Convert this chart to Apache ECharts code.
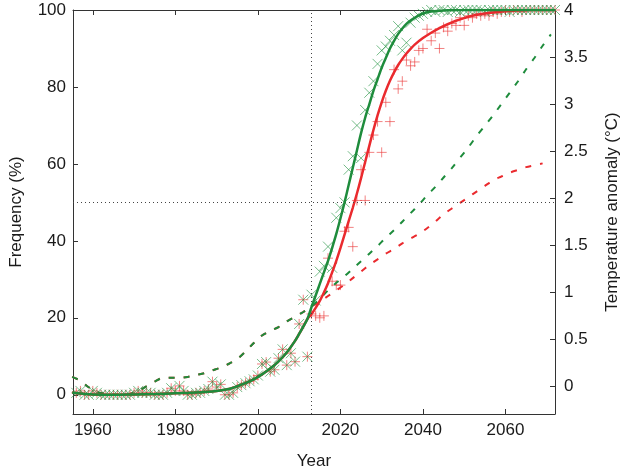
<!DOCTYPE html>
<html><head><meta charset="utf-8">
<script src="https://cdn.jsdelivr.net/npm/echarts@6/dist/echarts.min.js"></script>
<style>html,body{margin:0;padding:0;background:#fff}#c{width:629px;height:475px}</style>
</head><body><div id="c"></div>
<script>
// ---------- DATA ----------
const range = (a, b, s) => { const r = []; for (let v = a; v <= b; v += (s || 1)) r.push(v); return r; };

// Observed frequency (shared by both scenarios), 1955-2012
const obsYears = range(1955, 2012);
const obsFreq = [0,0.5,1,0,0,1,0.5,0,0,0, 0,0,0,0,0,0.5,1,0.5,0.5,0.5, 0,0,0,0.5,1.7,1,2.3,1,0,0,
  0.5,0.5,1,1.5,3.4,2,2.7,0,0,0.5, 2,2.5,3,3.5,4,5,8,8.5,6,6.5, 9.5,11.8,7.7,10.8,8.6,18.4,24.7,9.9];

// Projected frequency, 2013-2072
const projYears = range(2013, 2072);
const greenFreqProj = [26,24.5,32,33.5,38.5,33,46,48.5,50,58.5, 62,70,61.5,74,78.5,81.5,86,89.5,90.5,92,
  93.5,95.8,89.5,91.5,96.7,98,98.5,99,99.5,100, 99.5,100,100,99.5,100,100,99.5,100,100,100,
  100,100,99.5,100,100,100,100,100,99.5,100, 100,100,100,100,100,100,100,100,100,100];
const redFreqProj = [21,20.5,20,20.5,35.5,29.5,28.5,28.5,42.5,43.5, 38.5,50.5,58.5,50.5,63,67.5,71,63,76,71,
  84.5,79.5,81.5,87,85.5,86.5,89.5,90,95,92, 94,90,95.5,94.5,96.5,96,98,96,98.5,98,
  99,98.5,99,98.5,99.5,99,99.5,100,99.5,100, 100,99.5,100,100,100,100,100,100,100,100];

// Fitted frequency curves
const fitObsYears = [1955,1957,1960,1965,1970,1975,1980,1985,1990,1993,1995,1997,1999,2001,2003,2005,2007,2009,2010,2011,2012];
const fitObs = [0.6,0.3,0.1,0,0.1,0.2,0.4,0.6,1,1.5,2.2,3,4,5.3,6.8,8.7,11,14,15.8,17.7,19.7];
const greenFitYears = [2013,2014,2015,2016,2017,2018,2019,2020,2021,2022,2023,2024,2025,2026,2027,2028,2029,2030,2031,2032,2033,2034,2035,2036,2037,2038,2039,2040,2042,2045,2050,2060,2072];
const greenFit = [22.8,25.8,28.8,31.8,34.8,38.2,41.8,45.8,50,54.5,59,63.5,68,72,75.5,79,82,85,87.5,90,92,93.8,95.2,96.4,97.3,98,98.6,99.1,99.6,99.9,100,100,100];
const redFitYears = [2013,2014,2015,2016,2017,2018,2019,2020,2021,2022,2023,2024,2025,2026,2027,2028,2029,2030,2031,2032,2033,2034,2035,2036,2037,2038,2040,2042,2044,2046,2048,2050,2052,2055,2058,2062,2066,2072];
const redFit = [21,22.6,24.4,26.6,29,31.8,34.8,38.1,41.6,45.1,48.6,52.3,56.3,60.5,64.7,68.8,72.6,76,79,81.6,83.8,85.7,87.3,88.7,89.9,91,92.7,94.1,95.3,96.3,97.2,97.9,98.5,99.1,99.5,99.8,100,100];

// Temperature anomaly (right axis)
const tempObsYears = range(1955, 2013, 2);
const tempObs = [0.10,0.06,-0.01,-0.06,-0.08,-0.09,-0.09,-0.08,-0.05,0.0,0.05,0.09,0.09,0.09,0.10,
  0.12,0.14,0.17,0.20,0.24,0.29,0.37,0.46,0.54,0.59,0.63,0.69,0.74,0.79,0.85];
const greenTempYears = range(2015, 2071, 2);
const greenTemp = [0.93,1.02,1.10,1.17,1.25,1.33,1.41,1.49,1.58,1.66,1.75,1.84,1.93,2.03,2.12,
  2.22,2.32,2.43,2.54,2.66,2.77,2.88,3.0,3.12,3.24,3.37,3.49,3.62,3.74];
const redTempYears = range(2015, 2069, 2);
const redTemp = [0.90,0.96,1.02,1.08,1.15,1.22,1.29,1.35,1.41,1.46,1.52,1.57,1.62,1.68,1.75,
  1.83,1.89,1.95,2.01,2.07,2.13,2.19,2.23,2.27,2.30,2.33,2.35,2.37];

const markYear = 2013;
const markFreq = 50;

// ---------- CHART ----------
const zip = (xs, ys) => xs.map((x, i) => [x, ys[i]]);
const FONT = '"Liberation Sans", Arial, Helvetica, sans-serif';
const AX = '#333';
const GREEN = '#1e8c3c', RED = '#ea2a2e';
const GREEN_M = 'rgba(40,150,70,0.8)', RED_M = 'rgba(235,60,60,0.8)';
const txt = { fontSize: 17, color: '#1a1a1a', fontFamily: FONT };

const chart = echarts.init(document.getElementById('c'));
const xBase = {
  type: 'value', min: 1955.2, max: 2072, splitNumber: 6,
  axisLine: { show: true, onZero: false, lineStyle: { color: AX, width: 1 } },
  axisTick: { show: true, inside: true, length: 5, lineStyle: { color: AX } },
  splitLine: { show: false }
};
chart.setOption({
  animation: false,
  grid: { left: 68, right: 70, top: 10, bottom: 60 },
  xAxis: [
    Object.assign({}, xBase, {
      position: 'bottom',
      axisLabel: Object.assign({ showMinLabel: false, showMaxLabel: false, margin: 8,
        formatter: v => String(Math.round(v)) }, txt),
      name: 'Year', nameLocation: 'middle', nameGap: 39, nameTextStyle: txt
    }),
    Object.assign({}, xBase, { position: 'top', axisLabel: { show: false } })
  ],
  yAxis: [
    {
      type: 'value', min: -5, max: 100, splitNumber: 5, position: 'left',
      axisLine: { show: true, onZero: false, lineStyle: { color: AX } },
      axisTick: { show: true, inside: true, length: 5, lineStyle: { color: AX } },
      axisLabel: Object.assign({ showMinLabel: false, margin: 7 }, txt),
      splitLine: { show: false },
      name: 'Frequency (%)', nameLocation: 'middle', nameGap: 48, nameRotate: 90, nameTextStyle: txt
    },
    {
      type: 'value', min: -0.294, max: 4, splitNumber: 8, position: 'right',
      axisLine: { show: true, onZero: false, lineStyle: { color: AX } },
      axisTick: { show: true, inside: true, length: 5, lineStyle: { color: AX } },
      axisLabel: Object.assign({ showMinLabel: false, margin: 9 }, txt),
      splitLine: { show: false },
      name: 'Temperature anomaly (°C)', nameLocation: 'middle', nameGap: 49, nameRotate: 90, nameTextStyle: txt
    }
  ],
  series: [
    {
      type: 'scatter', name: 'red+', xAxisIndex: 0, yAxisIndex: 0,
      data: zip(obsYears, obsFreq).concat(zip(projYears, redFreqProj)),
      symbol: 'path://M5,0L5,10M0,5L10,5', symbolSize: 10,
      itemStyle: { color: 'rgba(0,0,0,0)', borderColor: RED_M, borderWidth: 1 },
      silent: true, z: 2,
      markLine: {
        silent: true, symbol: 'none', label: { show: false },
        lineStyle: { color: '#444', width: 1, type: [1, 3] },
        data: [{ xAxis: markYear }, { yAxis: markFreq }]
      }
    },
    {
      type: 'scatter', name: 'greenx', xAxisIndex: 0, yAxisIndex: 0,
      data: zip(obsYears, obsFreq).concat(zip(projYears, greenFreqProj)),
      symbol: 'path://M0,0L10,10M10,0L0,10', symbolSize: 10,
      itemStyle: { color: 'rgba(0,0,0,0)', borderColor: GREEN_M, borderWidth: 1 },
      silent: true, z: 2
    },
    {
      type: 'line', name: 'redT', yAxisIndex: 1, smooth: 0.3, showSymbol: false, z: 3,
      data: zip(tempObsYears, tempObs).concat(zip(redTempYears, redTemp)),
      lineStyle: { color: RED, width: 2, type: [6, 9] }
    },
    {
      type: 'line', name: 'greenT', yAxisIndex: 1, smooth: 0.3, showSymbol: false, z: 3,
      data: zip(tempObsYears, tempObs).concat(zip(greenTempYears, greenTemp)),
      lineStyle: { color: GREEN, width: 2, type: [6, 9] }
    },
    {
      type: 'line', name: 'redFit', yAxisIndex: 0, smooth: 0.3, showSymbol: false, z: 4,
      data: zip(fitObsYears, fitObs).concat(zip(redFitYears, redFit)),
      lineStyle: { color: RED, width: 2.5 }
    },
    {
      type: 'line', name: 'greenFit', yAxisIndex: 0, smooth: 0.3, showSymbol: false, z: 5,
      data: zip(fitObsYears, fitObs).concat(zip(greenFitYears, greenFit)),
      lineStyle: { color: GREEN, width: 2.5 }
    }
  ]
});
</script>
</body></html>
